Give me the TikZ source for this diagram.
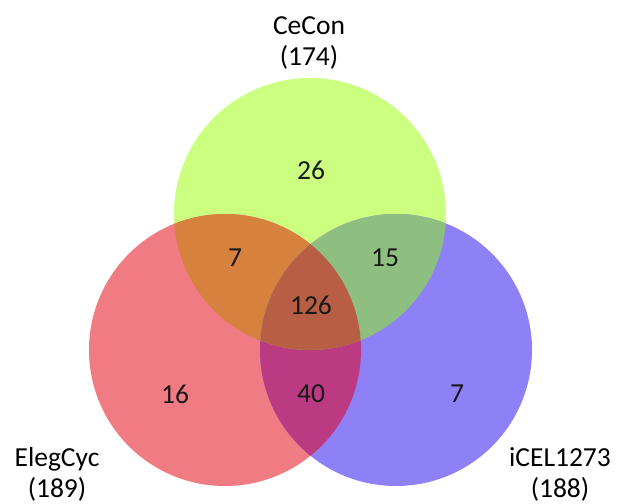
\documentclass[tikz,border=0pt]{standalone}
\usepackage{fontspec}
\setmainfont{Carlito}
\definecolor{greenset}{RGB}{204,255,127}
\definecolor{redset}{RGB}{240,123,130}
\definecolor{blueset}{RGB}{142,128,247}
\definecolor{redgreen}{RGB}{215,129,63}
\definecolor{greenblue}{RGB}{143,191,128}
\definecolor{redblue}{RGB}{187,58,130}
\definecolor{allthree}{RGB}{184,94,69}
\tikzstyle{setlabel} = [align=center, font=\fontsize{27.5pt}{31pt}\selectfont, inner sep=0pt]
\tikzstyle{countlabel} = [font=\fontsize{27.5pt}{31pt}\selectfont, text=black!90, inner sep=0pt]

\begin{document}
\begin{tikzpicture}[x=1pt, y=-1pt]
      \useasboundingbox (0, 0) rectangle (618, 503);
      \coordinate (cecon) at (310, 214);
      \coordinate (elegcyc) at (225, 350);
      \coordinate (icel) at (396, 350);

      \fill[greenset] (cecon) circle[radius=136pt];
      \fill[redset] (elegcyc) circle[radius=136pt];
      \fill[blueset] (icel) circle[radius=136pt];
      \begin{scope}
        \clip (elegcyc) circle[radius=136pt];
        \fill[redgreen] (cecon) circle[radius=136pt];
        \fill[redblue] (icel) circle[radius=136pt];
      \end{scope}
      \begin{scope}
        \clip (icel) circle[radius=136pt];
        \fill[greenblue] (cecon) circle[radius=136pt];
        \clip (elegcyc) circle[radius=136pt];
        \fill[allthree] (cecon) circle[radius=136pt];
      \end{scope}

      \node[setlabel] (ceconname) at (309, 43) {CeCon\\(174)};
      \node[setlabel] (elegname) at (57, 474) {ElegCyc\\(189)};
      \node[setlabel] (icelname) at (560, 474) {iCEL1273\\(188)};

      \node[countlabel] (only1) at (311, 170) {26};
      \node[countlabel] (rg) at (235, 258) {7};
      \node[countlabel] (gb) at (385, 258) {15};
      \node[countlabel] (all) at (311, 305) {126};
      \node[countlabel] (only2) at (175, 394) {16};
      \node[countlabel] (rb) at (311, 394) {40};
      \node[countlabel] (only3) at (457, 394) {7};
    \end{tikzpicture}
\end{document}
